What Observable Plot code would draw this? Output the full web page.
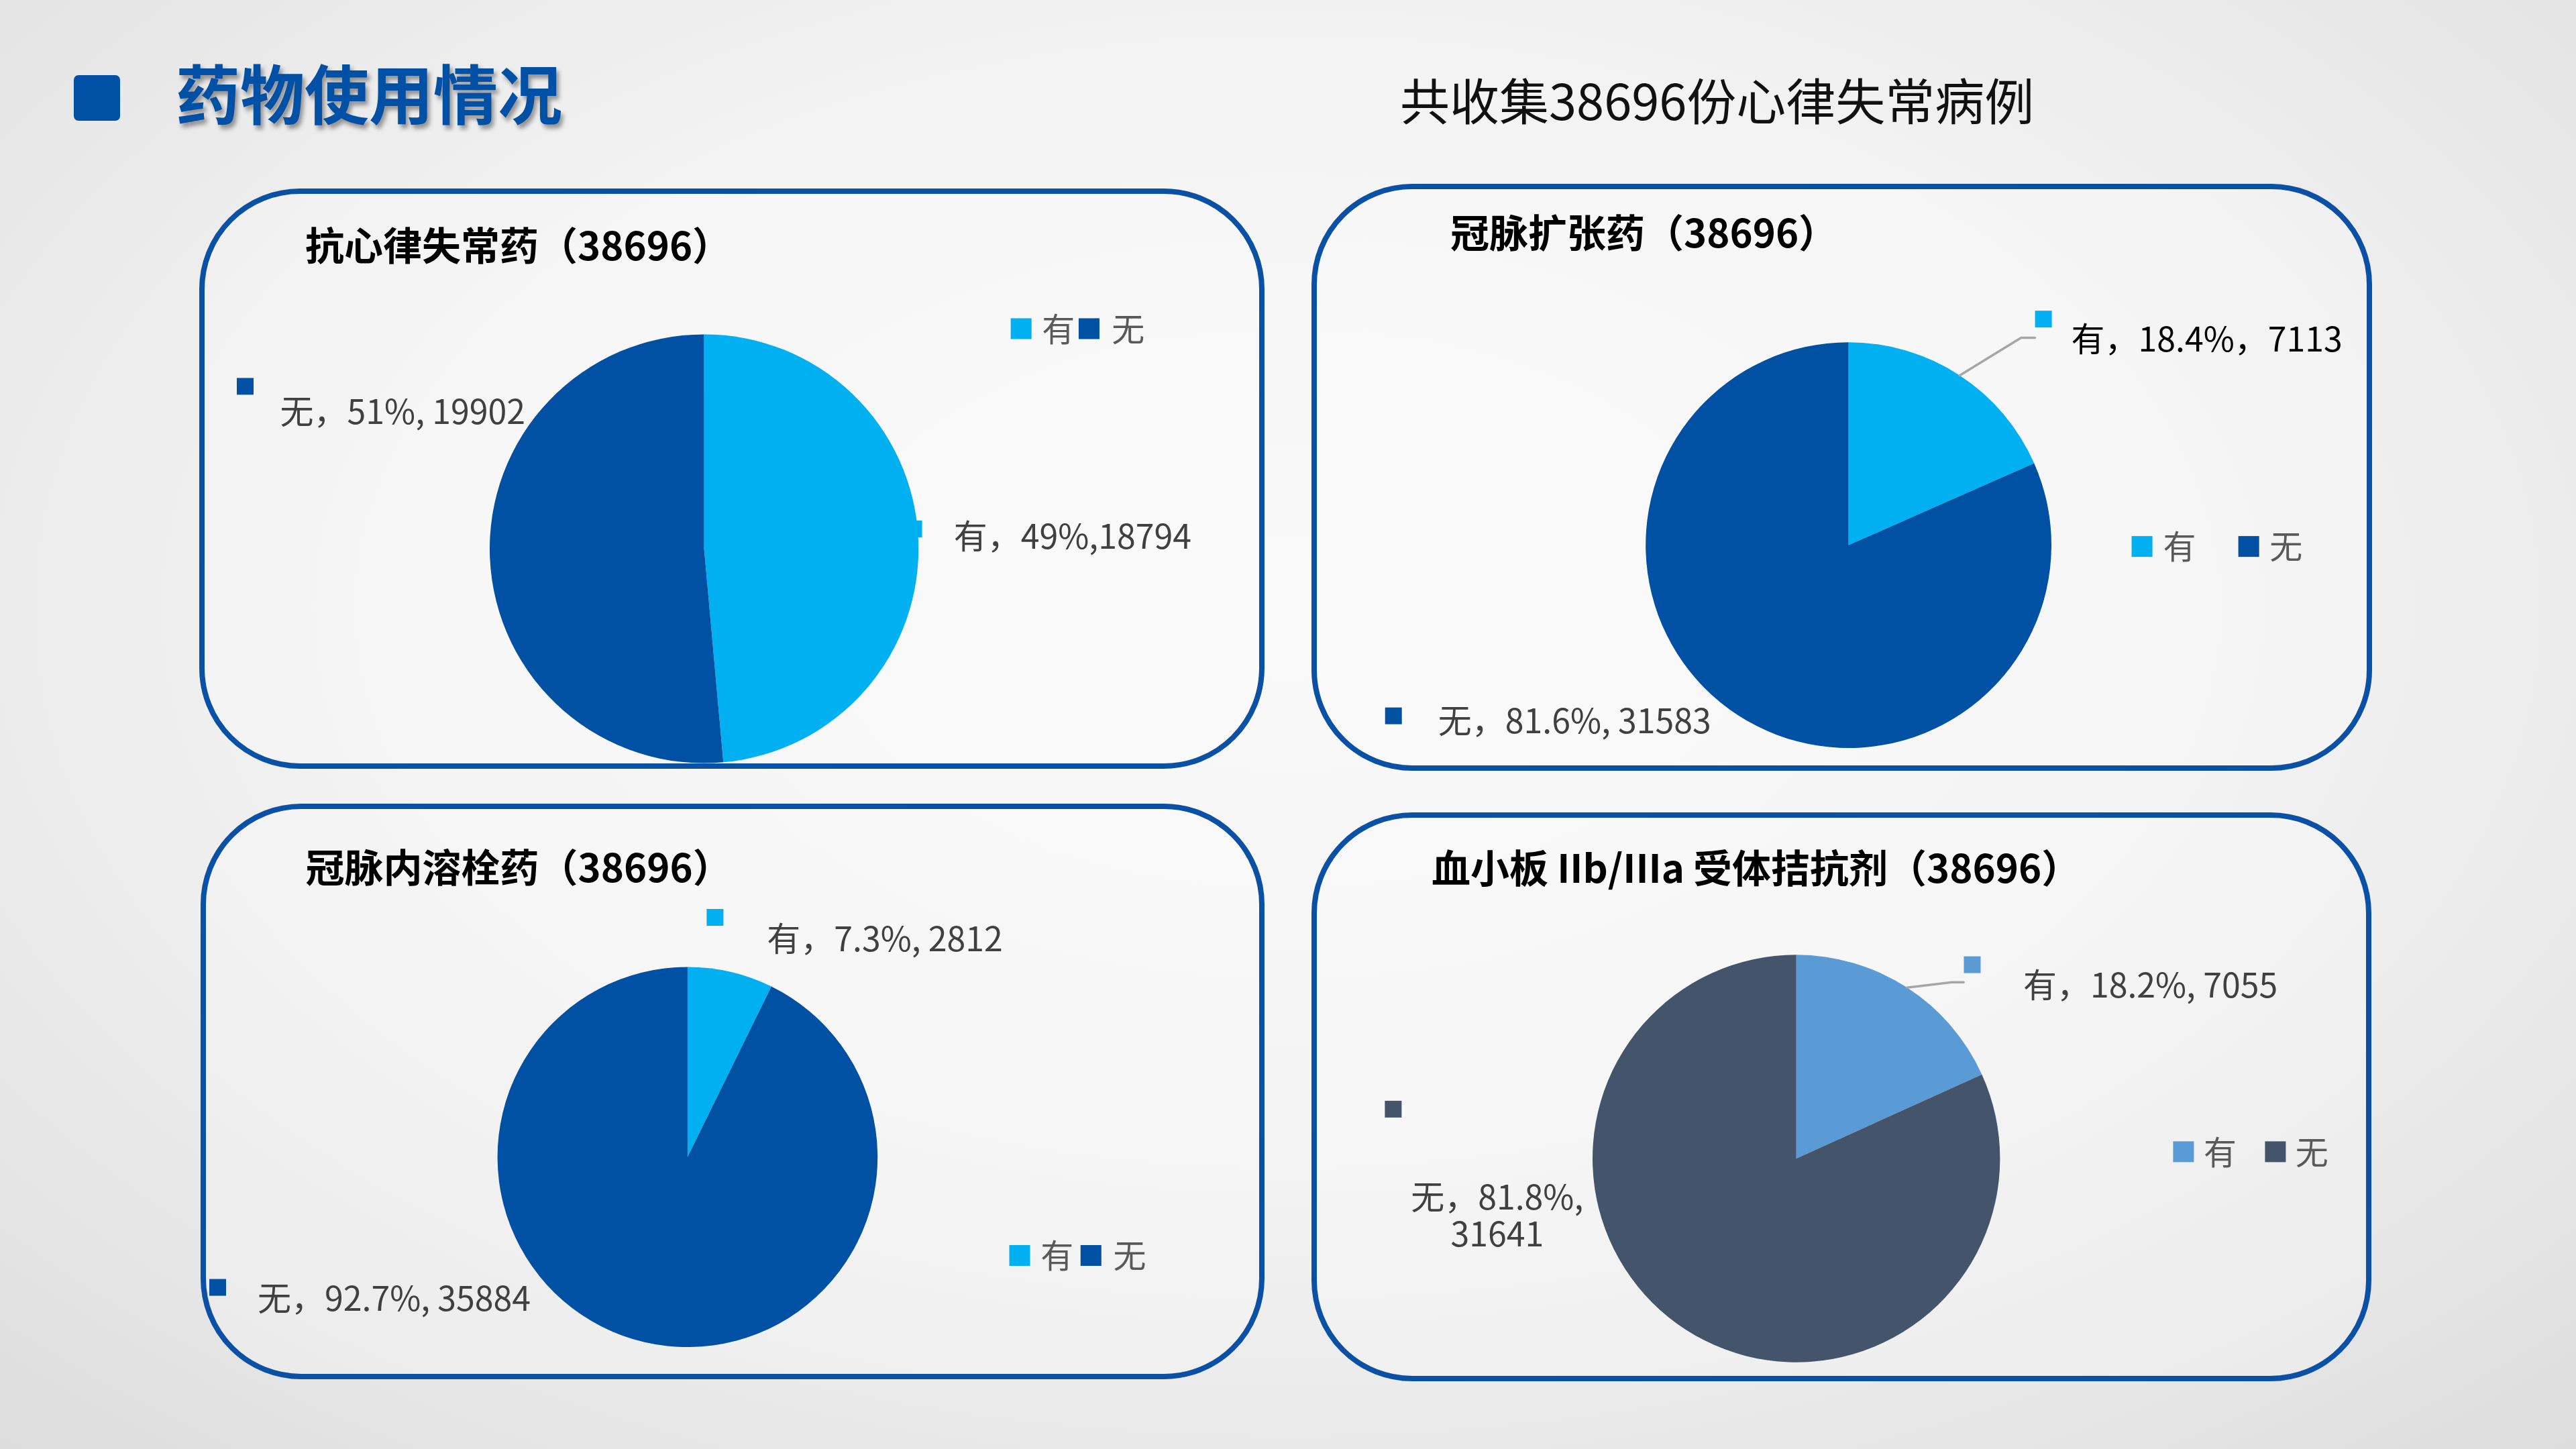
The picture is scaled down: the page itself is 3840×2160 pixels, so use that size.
<!DOCTYPE html>
<html>
<head>
<meta charset="utf-8">
<script src="https://cdn.jsdelivr.net/npm/d3@7"></script>
<script src="https://cdn.jsdelivr.net/npm/@observablehq/plot@0.6"></script>
<style>
html, body { margin: 0; padding: 0; }
body {
  width: 3840px; height: 2160px; position: relative; overflow: hidden;
  background: radial-gradient(ellipse 75% 80% at 50% 42%, #f9f9f9 0%, #f4f4f4 45%, #e6e6e6 80%, #dcdcdc 100%);
  font-family: "Noto Sans CJK SC", "Noto Sans", sans-serif;
}
.abs { position: absolute; }
.panel { position: absolute; box-sizing: border-box; border: 8px solid #0a50a4; border-radius: 150px / 150px; background: rgba(255,255,255,0.25); }
.ptitle { position: absolute; font-weight: 700; color: #000; white-space: nowrap; line-height: 1; }
.holder { position: absolute; }
.holder svg { display: block; overflow: visible; max-width: none; }
</style>
</head>
<body>
<div class="abs" style="left:110px;top:112px;width:69px;height:68px;background:#0050a5;border-radius:7px;"></div>
<div id="maintitle" class="abs" style="left:262px;font-size:96px;font-weight:700;color:#0050a5;line-height:1;white-space:nowrap;text-shadow:4px 6px 6px rgba(0,0,0,0.38);">药物使用情况</div>
<div id="subtitle" class="abs" style="left:2087px;font-size:74px;color:#111;line-height:1;white-space:nowrap;">共收集38696份心律失常病例</div>
<script>
// ---------- data ----------
const titles = ["抗心律失常药（38696）", "冠脉扩张药（38696）", "冠脉内溶栓药（38696）", "血小板 IIb/IIIa 受体拮抗剂（38696）"];
const categories = ["有", "无"];
const counts1 = [18794, 19902];
const counts2 = [7113, 31583];
const counts3 = [2812, 35884];
const counts4 = [7055, 31641];
const pcts1 = ["49%", "51%"];
const pcts2 = ["18.4%", "81.6%"];
const pcts3 = ["7.3%", "92.7%"];
const pcts4 = ["18.2%", "81.8%"];
const seps1 = [",", ", "];
const seps2 = ["，", ", "];
const seps3 = [", ", ", "];
const seps4 = [", ", ",\n"];
const paletteBlue = ["#00b0f0", "#0050a4"];
const paletteSlate = ["#5b9bd5", "#44546a"];

// ---------- layout (page px for boxes; radius units for annotations) ----------
const layouts = [
  { box: [297, 281, 1885, 1146], cx: 1049.6, cy: 818.0, r: 319.6, titlePos: [455, 366],
    marker: [[0.976, -0.094], [-2.142, -0.759]],
    text: [[1.163, -0.064], [-1.979, -0.647]],
    anchor: ["start", "start"], textFill: ["#404040", "#404040"],
    leader: [null, null],
    legend: { y: -1.028, sq: [1.477, 1.794], tx: [1.574, 1.900] } },
  { box: [1955, 274, 3536, 1149], cx: 2755.6, cy: 812.6, r: 302.4, titlePos: [2162, 347.5],
    marker: [[0.959, -1.116], [-2.245, 0.840]],
    text: [[1.096, -1.024], [-2.025, 0.858]],
    anchor: ["start", "start"], textFill: ["#000000", "#404040"],
    leader: [[[0.849, -1.024], [0.917, -1.024]], null],
    legend: { y: 0.005, sq: [1.445, 1.971], tx: [1.549, 2.074] } },
  { box: [299, 1198, 1885, 2056], cx: 1024.9, cy: 1724.8, r: 283.3, titlePos: [455.6, 1293.3],
    marker: [[0.143, -1.263], [-2.474, 0.684]],
    text: [[0.416, -1.156], [-2.264, 0.735]],
    anchor: ["start", "start"], textFill: ["#404040", "#404040"],
    leader: [null, null],
    legend: { y: 0.516, sq: [1.746, 2.121], tx: [1.856, 2.238] } },
  { box: [1955, 1211, 3535, 2059], cx: 2677.7, cy: 1727.0, r: 303.7, titlePos: [2134, 1294],
    marker: [[0.862, -0.953], [-1.980, -0.244]],
    text: [[1.112, -0.860], [-1.470, 0.271]],
    anchor: ["start", "middle"], textFill: ["#404040", "#404040"],
    leader: [[[0.761, -0.867], [0.820, -0.867]], null],
    legend: { y: -0.035, sq: [1.899, 2.350], tx: [1.998, 2.448] } }
];

const charts = [
  { title: titles[0], counts: counts1, pcts: pcts1, seps: seps1, palette: paletteBlue },
  { title: titles[1], counts: counts2, pcts: pcts2, seps: seps2, palette: paletteBlue },
  { title: titles[2], counts: counts3, pcts: pcts3, seps: seps3, palette: paletteBlue },
  { title: titles[3], counts: counts4, pcts: pcts4, seps: seps4, palette: paletteSlate }
];

const FONT = "'Noto Sans CJK SC', 'Noto Sans', sans-serif";
const centerTop = (cy, fs) => cy - 0.556 * fs;

document.getElementById("maintitle").style.top = centerTop(141, 96) + "px";
document.getElementById("subtitle").style.top = centerTop(151, 74) + "px";

function pieMark(rows, palette) {
  return (index, scales) => {
    const x = scales.x, y = scales.y;
    const color = scales.color || (n => palette[categories.indexOf(n)]);
    const cx = x(0), cy = y(0), R = x(1) - x(0);
    const arcs = d3.pie().sort(null).value(d => d.value)(rows);
    const arc = d3.arc().innerRadius(0).outerRadius(R);
    const g = d3.create("svg:g").attr("transform", `translate(${cx},${cy})`);
    g.selectAll("path").data(arcs).join("path")
      .attr("d", arc)
      .attr("fill", d => color(d.data.name));
    return g.node();
  };
}

charts.forEach((c, k) => {
  const L = layouts[k];
  const [bx0, by0, bx1, by1] = L.box;
  const W = bx1 - bx0, H = by1 - by0;

  const panel = document.createElement("div");
  panel.className = "panel";
  Object.assign(panel.style, { left: bx0 + "px", top: by0 + "px", width: W + "px", height: H + "px" });
  document.body.appendChild(panel);

  const rows = categories.map((name, i) => ({ name, value: c.counts[i] }));
  const arcs = d3.pie().sort(null).value(d => d.value)(rows);

  const labels = categories.map((name, i) => ({
    name,
    label: `${name}，${c.pcts[i]}${c.seps[i]}${c.counts[i]}`,
    mx: L.marker[i][0], my: L.marker[i][1],
    tx: L.text[i][0], ty: L.text[i][1],
    anchor: L.anchor[i], fill: L.textFill[i]
  }));

  const leaders = [];
  arcs.forEach((a, i) => {
    const pts = L.leader[i];
    if (!pts) return;
    const mid = (a.startAngle + a.endAngle) / 2;
    leaders.push({ id: i, x: Math.sin(mid), y: -Math.cos(mid) });
    pts.forEach(p => leaders.push({ id: i, x: p[0], y: p[1] }));
  });

  const legend = categories.map((name, i) => ({
    name, sx: L.legend.sq[i], tx: L.legend.tx[i], y: L.legend.y
  }));

  const chart = Plot.plot({
    width: W, height: H, margin: 0,
    x: { type: "linear", domain: [(bx0 - L.cx) / L.r, (bx1 - L.cx) / L.r], range: [0, W], axis: null },
    y: { type: "linear", domain: [(by0 - L.cy) / L.r, (by1 - L.cy) / L.r], range: [0, H], axis: null },
    color: { type: "ordinal", domain: categories, range: c.palette },
    style: { background: "transparent", fontFamily: FONT, overflow: "visible" },
    marks: [
      Plot.dot(labels, { x: "mx", y: "my", fill: "name", symbol: "square", r: 14.1 }),
      pieMark(rows, c.palette),
      Plot.line(leaders, { x: "x", y: "y", z: "id", stroke: "#a6a6a6", strokeWidth: 3.5, curve: "linear" }),
      ...labels.map(d => Plot.text([d], {
        x: "tx", y: "ty", text: "label", textAnchor: d.anchor, lineAnchor: "middle",
        fontSize: 50, lineHeight: 1.09, fill: d.fill, dy: 3
      })),
      Plot.dot(legend, { x: "sx", y: "y", fill: "name", symbol: "square", r: 17.5 }),
      Plot.text(legend, { x: "tx", y: "y", text: "name", textAnchor: "start", lineAnchor: "middle",
        fontSize: 49, fill: "#595959", dy: 3 })
    ]
  });

  const holder = document.createElement("div");
  holder.className = "holder";
  Object.assign(holder.style, { left: bx0 + "px", top: by0 + "px", width: W + "px", height: H + "px" });
  holder.appendChild(chart);
  document.body.appendChild(holder);

  const t = document.createElement("div");
  t.className = "ptitle";
  t.textContent = c.title;
  const fs = 58;
  Object.assign(t.style, { left: L.titlePos[0] + "px", top: centerTop(L.titlePos[1], fs) + "px", fontSize: fs + "px" });
  document.body.appendChild(t);
});
</script>
</body>
</html>
